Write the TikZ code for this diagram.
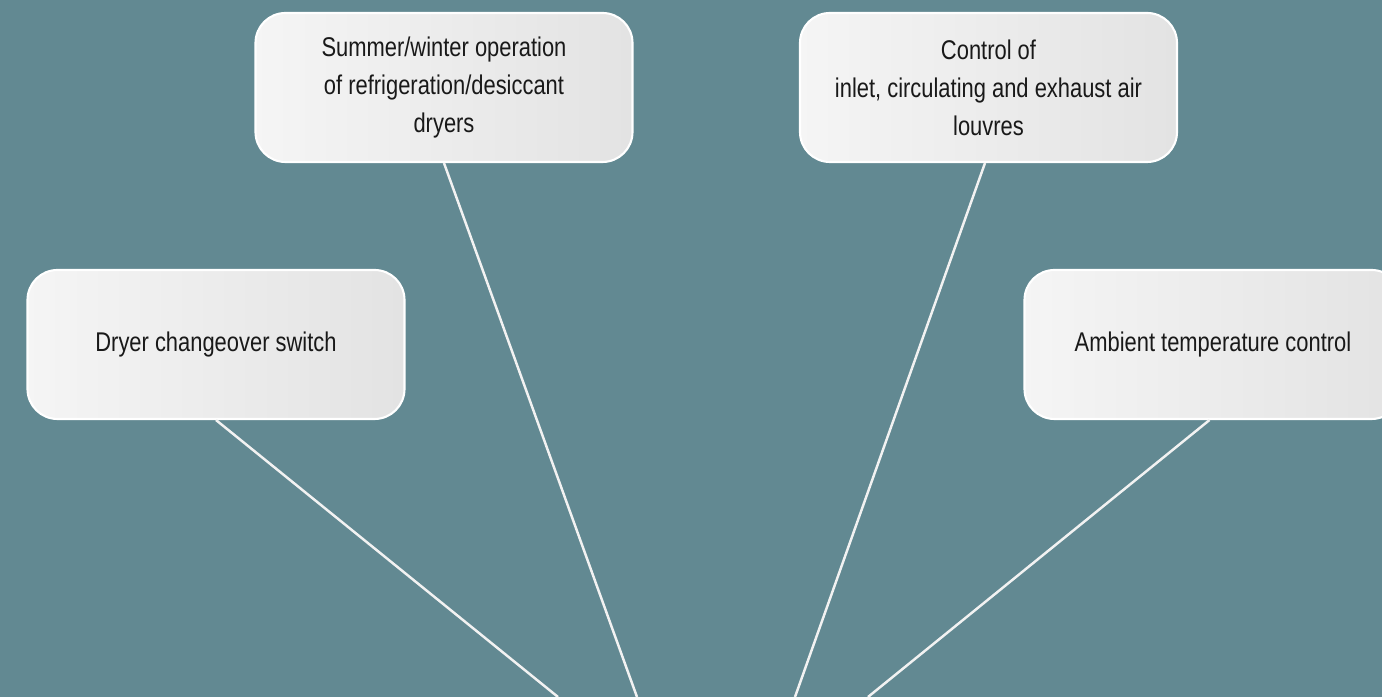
\documentclass[tikz,border=0pt]{standalone}
\usepackage{fontspec}
\setmainfont{Liberation Sans}[FakeStretch=0.81]
\definecolor{slate}{RGB}{98,137,146}
\tikzset{
  taskbox/.style={draw=white, line width=0.6pt, rounded corners=0.3cm,
    left color=white!96!black, right color=white!89!black,
    minimum width=3.77cm, minimum height=1.49cm, align=center,
    text=black!90, font=\fontsize{7.7}{10.8}\selectfont},
  spoke/.style={draw=white!95!black, line width=0.7pt}
}
\begin{document}
\begin{tikzpicture}
    % Background
    \fill[slate] (0,0) rectangle (13.82,-6.97);
    \useasboundingbox (0,0) rectangle (13.82,-6.97);
    \clip (0,0) rectangle (13.82,-6.97);

    % Boxes
    \node[taskbox] (season) at (4.44,-0.875) {Summer/winter operation\\of refrigeration/desiccant\\dryers};
    \node[taskbox] (louvres) at (9.885,-0.875) {Control of\\inlet, circulating and exhaust air\\louvres};
    \node[taskbox] (changeover) at (2.16,-3.445) {Dryer changeover switch};
    \node[taskbox] (ambient) at (12.13,-3.445) {Ambient temperature control};

    % Spoke ends on the lower edge
    \coordinate (endC) at (5.58,-6.97);
    \coordinate (endA) at (6.37,-6.97);
    \coordinate (endB) at (7.95,-6.97);
    \coordinate (endD) at (8.68,-6.97);

    % Connectors
    \draw[spoke] (changeover.south) -- (endC);
    \draw[spoke] (season.south) -- (endA);
    \draw[spoke] (louvres.south) ++(-0.035,0) -- (endB);
    \draw[spoke] (ambient.south) ++(-0.035,0) -- (endD);
\end{tikzpicture}
\end{document}
